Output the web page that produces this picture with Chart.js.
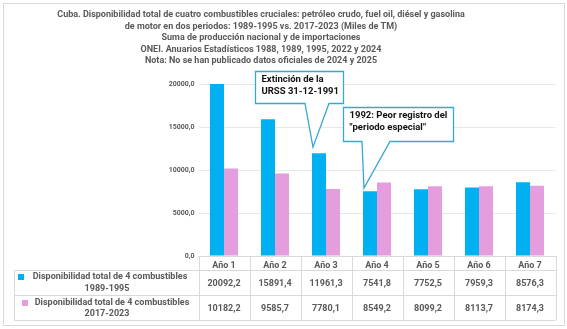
<!DOCTYPE html>
<html>
<head>
<meta charset="utf-8">
<script src="https://cdn.jsdelivr.net/npm/chart.js@4/dist/chart.umd.min.js"></script>
<style>
  html, body { margin: 0; padding: 0; background: #fff; }
  #wrap { width: 567px; height: 329px; }
</style>
</head>
<body>
<div id="wrap"><canvas id="myChart" width="567" height="329"></canvas></div>
<script>
const categories = ['Año 1', 'Año 2', 'Año 3', 'Año 4', 'Año 5', 'Año 6', 'Año 7'];
const serie1989 = [20092.2, 15891.4, 11961.3, 7541.8, 7752.5, 7959.3, 8576.3];
const serie2017 = [10182.2, 9585.7, 7780.1, 8549.2, 8099.2, 8113.7, 8174.3];
const seriesNames = ['Disponibilidad total de 4 combustibles', 'Disponibilidad total de 4 combustibles'];
const seriesPeriods = ['1989-1995', '2017-2023'];
const yTicks = [0, 5000, 10000, 15000, 20000];
const titleLines = [
    'Cuba. Disponibilidad total de cuatro combustibles cruciales: petróleo crudo, fuel oil, diésel y gasolina',
    'de motor en dos periodos: 1989-1995 vs. 2017-2023 (Miles de TM)',
    'Suma de producción nacional y de importaciones',
    'ONEI. Anuarios Estadísticos 1988, 1989, 1995, 2022 y 2024',
    'Nota: No se han publicado datos oficiales de 2024 y 2025'
];
const calloutTexts = [
    ['Extinción de la', 'URSS 31-12-1991'],
    ['1992: Peor registro del', '"periodo especial"']
];

const BLUE = '#00B0F0';
const PINK = '#E49EDD';
const GREY_TEXT = '#595959';
const LINE = '#D9D9D9';
const FONT = 'Roboto';

function fmt(v) {
    return v.toFixed(1).replace('.', ',');
}

// frame and title (title is centred a bit left of the canvas middle, like the original)
const framePlugin = {
    id: 'frame',
    beforeDraw(chart) {
        const ctx = chart.ctx;
        ctx.save();
        ctx.fillStyle = '#fff';
        ctx.fillRect(0, 0, chart.width, chart.height);
        ctx.strokeStyle = LINE;
        ctx.lineWidth = 1;
        ctx.strokeRect(3.5, 3.5, 561, 322);

        ctx.fillStyle = GREY_TEXT;
        ctx.font = `bold 9px ${FONT}`;
        ctx.textAlign = 'center';
        ctx.textBaseline = 'middle';
        titleLines.forEach((t, i) => {
            ctx.fillText(t, 261, 15 + i * 11.5);
        });
        ctx.restore();
    }
};

// data table under the x axis (Excel style)
const tablePlugin = {
    id: 'dataTable',
    afterDraw(chart) {
        const ctx = chart.ctx;
        const x = chart.scales.x;
        const area = chart.chartArea;
        const step = x.getPixelForValue(1) - x.getPixelForValue(0);
        const left = 14.5, top = area.bottom, headBottom = 270.5, mid = 295.5, bottom = 320.5;
        ctx.save();
        ctx.strokeStyle = LINE;
        ctx.lineWidth = 1;
        ctx.beginPath();
        ctx.moveTo(left, headBottom); ctx.lineTo(area.right, headBottom);
        ctx.moveTo(left, mid); ctx.lineTo(area.right, mid);
        ctx.moveTo(left, bottom); ctx.lineTo(area.right, bottom);
        ctx.moveTo(left, headBottom); ctx.lineTo(left, bottom);
        for (let i = 0; i <= categories.length; i++) {
            const px = Math.round(x.getPixelForValue(i) - step / 2) + 0.5;
            ctx.moveTo(px, top); ctx.lineTo(px, bottom);
        }
        ctx.stroke();

        ctx.fillStyle = GREY_TEXT;
        ctx.textAlign = 'center';
        ctx.textBaseline = 'middle';
        ctx.font = `bold 9px ${FONT}`;
        const rows = [serie1989, serie2017];
        const rowY = [283.5, 308.5];
        rows.forEach((vals, r) => {
            vals.forEach((v, i) => {
                ctx.fillText(fmt(v), x.getPixelForValue(i), rowY[r]);
            });
        });

        // row labels with legend keys
        const labelCx = [110, 112];
        const nameY = [277, 303];
        const periodY = [289, 314];
        const colors = [BLUE, PINK];
        const keyX = [18, 22];
        rows.forEach((vals, r) => {
            ctx.fillStyle = GREY_TEXT;
            ctx.fillText(seriesNames[r], labelCx[r], nameY[r]);
            ctx.fillText(seriesPeriods[r], 107, periodY[r]);
            ctx.fillStyle = colors[r];
            ctx.fillRect(keyX[r], nameY[r] - 3, 6, 6);
        });
        ctx.restore();
    }
};

// callouts pointing to bars
const calloutPlugin = {
    id: 'callouts',
    afterDatasetsDraw(chart) {
        const ctx = chart.ctx;
        const bars = chart.getDatasetMeta(0).data;
        const boxes = [
            { cat: 2, x: 255.5, y: 71.5, w: 88, h: 32, base: [305, 329], dy: 6 },
            { cat: 3, x: 343.5, y: 107.5, w: 110, h: 34, base: [362, 390], dy: 3 }
        ];
        ctx.save();
        boxes.forEach((b, i) => {
            const bar = bars[b.cat];
            const tipX = bar.x - bar.width / 2 + 1;
            const tipY = bar.y - b.dy;
            const by = b.y + b.h;
            ctx.beginPath();
            ctx.moveTo(b.x, b.y);
            ctx.lineTo(b.x + b.w, b.y);
            ctx.lineTo(b.x + b.w, by);
            ctx.lineTo(b.base[1], by);
            ctx.lineTo(tipX, tipY);
            ctx.lineTo(b.base[0], by);
            ctx.lineTo(b.x, by);
            ctx.closePath();
            ctx.fillStyle = '#fff';
            ctx.fill();
            ctx.strokeStyle = '#3AA6D4';
            ctx.lineWidth = 1.3;
            ctx.stroke();
            ctx.fillStyle = '#111';
            ctx.font = `bold 9.5px ${FONT}`;
            ctx.textAlign = 'left';
            ctx.textBaseline = 'middle';
            calloutTexts[i].forEach((t, k) => {
                ctx.fillText(t, b.x + 6, b.y + 8 + k * 12.5);
            });
        });
        ctx.restore();
    }
};

function plotGraph() {
    const ctx = document.getElementById('myChart').getContext('2d');
    new Chart(ctx, {
        type: 'bar',
        data: {
            labels: categories,
            datasets: [{
                label: seriesNames[0] + ' ' + seriesPeriods[0],
                data: serie1989,
                backgroundColor: BLUE,
                categoryPercentage: 0.55,
                barPercentage: 1
            }, {
                label: seriesNames[1] + ' ' + seriesPeriods[1],
                data: serie2017,
                backgroundColor: PINK,
                categoryPercentage: 0.55,
                barPercentage: 1
            }]
        },
        options: {
            responsive: false,
            animation: false,
            devicePixelRatio: 1,
            layout: { padding: { left: 14, right: 11.5, top: 84, bottom: 8 } },
            scales: {
                x: {
                    grid: { display: false, drawTicks: false },
                    border: { display: true, color: LINE },
                    ticks: {
                        padding: 4,
                        color: GREY_TEXT,
                        font: { family: FONT, size: 9, weight: 'bold' }
                    },
                    afterFit(scale) { scale.height = 65; }
                },
                y: {
                    min: 0,
                    max: 20000,
                    afterBuildTicks(scale) { scale.ticks = yTicks.map(v => ({ value: v })); },
                    grid: { color: '#E8E8E8', drawTicks: false },
                    border: { display: false },
                    ticks: {
                        padding: 4,
                        color: GREY_TEXT,
                        font: { family: FONT, size: 7, weight: 'bold' },
                        callback: v => fmt(v)
                    },
                    afterFit(scale) { scale.width = 184.5; }
                }
            },
            plugins: {
                legend: { display: false },
                tooltip: { enabled: false },
                title: { display: false }
            }
        },
        plugins: [framePlugin, tablePlugin, calloutPlugin]
    });
}

plotGraph();
</script>
</body>
</html>
